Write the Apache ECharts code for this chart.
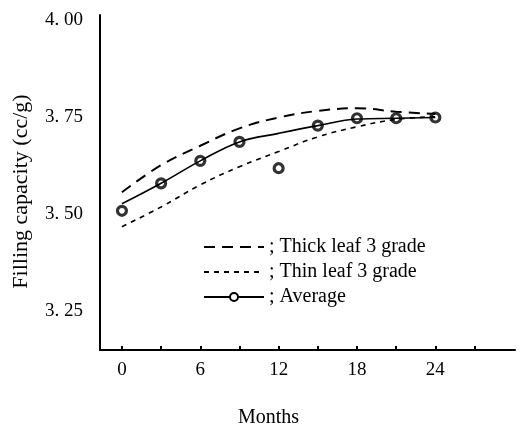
<!DOCTYPE html>
<html>
<head>
<meta charset="utf-8">
<script src="https://cdn.jsdelivr.net/npm/echarts@6/dist/echarts.min.js"></script>
<style>
  html, body { margin: 0; padding: 0; background: #fff; }
  #chart { width: 529px; height: 428px; }
</style>
</head>
<body>
<div id="chart"></div>
<script>
// months at which the curves and points are read
const months = [0, 3, 6, 9, 12, 15, 18, 21, 24]
const thickLeaf = [3.556, 3.626, 3.676, 3.721, 3.749, 3.766, 3.773, 3.764, 3.758]
const thinLeaf = [3.467, 3.518, 3.575, 3.622, 3.661, 3.699, 3.725, 3.744, 3.751]
const averageCurve = [3.526, 3.579, 3.637, 3.686, 3.708, 3.728, 3.745, 3.747, 3.749]
const averagePoints = [3.508, 3.579, 3.637, 3.686, 3.618, 3.728, 3.747, 3.747, 3.749]

const xLabelValues = [0, 6, 12, 18, 24]
const xTickValues = [0, 3, 6, 9, 12, 15, 18, 21, 24, 27]
const yLabelValues = [3.25, 3.5, 3.75, 4.0]
const yLabelTexts = ['3. 25', '3. 50', '3. 75', '4. 00']

const font = '"Liberation Serif", "DejaVu Serif", serif'
const pairs = vals => months.map((m, i) => [m, vals[i]])

const chart = echarts.init(document.getElementById('chart'), null, { renderer: 'canvas' })
chart.setOption({
  backgroundColor: '#fff',
  animation: false,
  textStyle: { fontFamily: font, color: '#000' },
  grid: { left: 100, right: 14, top: 15, bottom: 78, outerBoundsMode: 'none', containLabel: false },
  legend: {
    orient: 'vertical', left: 198, top: 232, selectedMode: false,
    itemWidth: 60, itemHeight: 10, itemGap: 5,
    textStyle: { fontFamily: font, fontSize: 20, lineHeight: 20, color: '#000' },
    formatter: name => '; ' + name,
    data: [
      { name: 'Thick leaf 3 grade', itemStyle: { opacity: 0 } },
      { name: 'Thin leaf 3 grade', itemStyle: { opacity: 0 } },
      { name: 'Average' }
    ]
  },
  xAxis: {
    type: 'value', min: -1.68, max: 30.1,
    name: 'Months', nameLocation: 'middle', nameGap: 58,
    nameTextStyle: { fontFamily: font, fontSize: 20, color: '#000', padding: [0, 78, 0, 0] },
    axisLine: { onZero: false, lineStyle: { color: '#000', width: 2 } },
    axisTick: { customValues: xTickValues, inside: true, length: 4, lineStyle: { color: '#000', width: 2 } },
    axisLabel: { customValues: xLabelValues, margin: 11, fontFamily: font, fontSize: 19, color: '#000' },
    splitLine: { show: false }
  },
  yAxis: {
    type: 'value', min: 3.1485, max: 4.0137,
    name: 'Filling capacity (cc/g)', nameLocation: 'middle', nameGap: 68,
    nameTextStyle: { fontFamily: font, fontSize: 22, color: '#000', padding: [0, 18, 0, 0] },
    axisLine: { onZero: false, lineStyle: { color: '#000', width: 2 } },
    axisTick: { show: false },
    axisLabel: {
      customValues: yLabelValues, margin: 17, fontFamily: font, fontSize: 19, color: '#000',
      formatter: v => yLabelTexts[yLabelValues.findIndex(x => Math.abs(x - v) < 1e-6)]
    },
    splitLine: { show: false }
  },
  series: [
    {
      name: 'Thick leaf 3 grade', type: 'line', smooth: 0.4, symbol: 'none',
      data: pairs(thickLeaf), color: '#000',
      lineStyle: { color: '#000', width: 2, type: [11, 7] }
    },
    {
      name: 'Thin leaf 3 grade', type: 'line', smooth: 0.4, symbol: 'none',
      data: pairs(thinLeaf), color: '#000',
      lineStyle: { color: '#000', width: 1.6, type: [5, 5] }
    },
    {
      name: 'Average', type: 'line', smooth: 0.4, symbol: 'emptyCircle', showSymbol: false, symbolSize: 9,
      data: pairs(averageCurve), color: '#000',
      itemStyle: { color: '#000', borderWidth: 3 },
      lineStyle: { color: '#000', width: 1.6 }
    },
    {
      name: 'Average points', type: 'scatter', symbol: 'circle', symbolSize: 9,
      data: pairs(averagePoints),
      itemStyle: { color: '#fff', borderColor: '#000', borderWidth: 3.2 }
    }
  ]
})
</script>
</body>
</html>
